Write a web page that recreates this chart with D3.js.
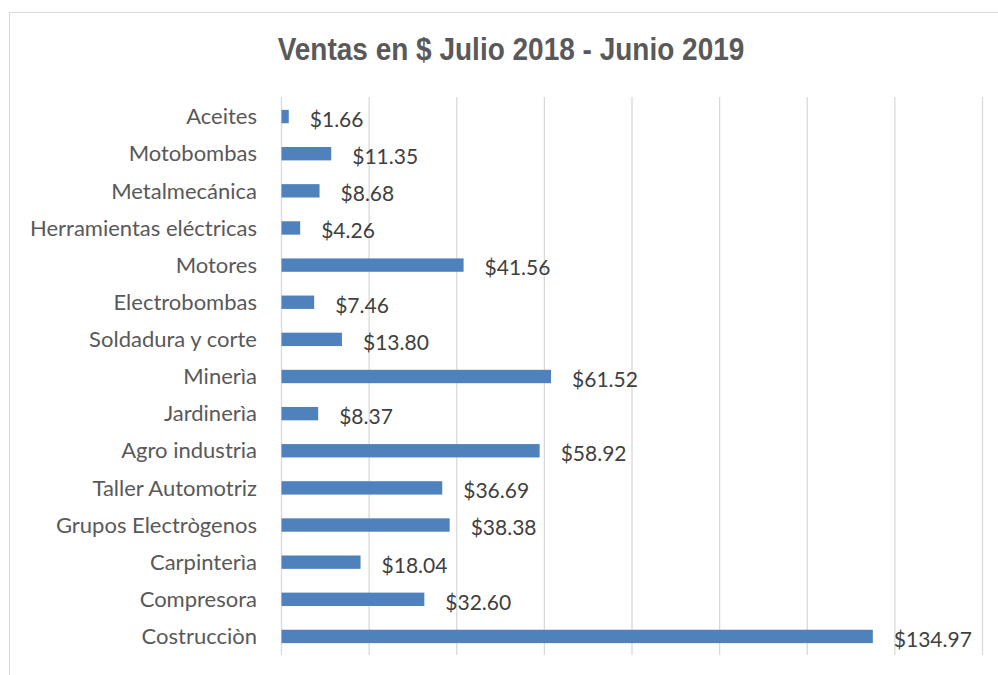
<!DOCTYPE html>
<html>
<head>
<meta charset="utf-8">
<script src="https://cdn.jsdelivr.net/npm/d3@7"></script>
<style>
  body { margin: 0; background: #fff; }
  svg { display: block; }
</style>
</head>
<body>
<svg width="998" height="675"></svg>
<script>
var categories = ['Aceites', 'Motobombas', 'Metalmecánica', 'Herramientas eléctricas', 'Motores',
  'Electrobombas', 'Soldadura y corte', 'Minerìa', 'Jardinerìa', 'Agro industria',
  'Taller Automotriz', 'Grupos Electrògenos', 'Carpinterìa', 'Compresora', 'Costrucciòn'];
var ventas = [1.66, 11.35, 8.68, 4.26, 41.56, 7.46, 13.80, 61.52, 8.37, 58.92, 36.69, 38.38, 18.04, 32.60, 134.97];
var gridTicks = [0, 20, 40, 60, 80, 100, 120, 140, 160];

var svg = d3.select('svg');

// chart area border
svg.append('rect')
  .attr('x', 9.5).attr('y', 12.5)
  .attr('width', 1000).attr('height', 700)
  .attr('fill', 'none')
  .attr('stroke', '#d9d9d9');

svg.append('text')
  .attr('transform', 'translate(511,60) scale(1,1.12)')
  .attr('text-anchor', 'middle')
  .attr('font-family', 'Liberation Sans, Arial, sans-serif')
  .attr('font-weight', 'bold')
  .attr('font-size', 28)
  .attr('fill', '#595959')
  .text('Ventas en $ Julio 2018 - Junio 2019');

var x = d3.scaleLinear().domain([0, 160]).range([281.5, 982.5]);
var y = d3.scaleBand().domain(categories).range([98, 655]).paddingInner(0.64).paddingOuter(0.32);

// vertical gridlines
svg.append('g').selectAll('line')
  .data(gridTicks)
  .join('line')
  .attr('x1', function(d) { return x(d); })
  .attr('x2', function(d) { return x(d); })
  .attr('y1', 97).attr('y2', 655)
  .attr('stroke', '#d9d9d9')
  .attr('stroke-width', 1.3);

svg.append('g').selectAll('rect')
  .data(ventas)
  .join('rect')
  .attr('x', x(0))
  .attr('y', function(d, i) { return y(categories[i]); })
  .attr('width', function(d) { return x(d) - x(0); })
  .attr('height', y.bandwidth())
  .attr('fill', '#4f81bd');

// category labels
svg.append('g').selectAll('text')
  .data(categories)
  .join('text')
  .attr('x', 257)
  .attr('y', function(d) { return y(d) + y.bandwidth() / 2; })
  .attr('dy', '0.35em')
  .attr('text-anchor', 'end')
  .attr('font-family', 'Lato, Carlito, Calibri, sans-serif')
  .attr('font-size', 22)
  .attr('fill', '#595959')
  .text(function(d) { return d; });

// value labels
svg.append('g').selectAll('text')
  .data(ventas)
  .join('text')
  .attr('x', function(d) { return x(d) + 21; })
  .attr('y', function(d, i) { return y(categories[i]) + y.bandwidth() / 2 + 3; })
  .attr('dy', '0.35em')
  .attr('font-family', 'Lato, Carlito, Calibri, sans-serif')
  .attr('font-size', 21)
  .attr('fill', '#404040')
  .text(function(d) { return '$' + d.toFixed(2); });
</script>
</body>
</html>
